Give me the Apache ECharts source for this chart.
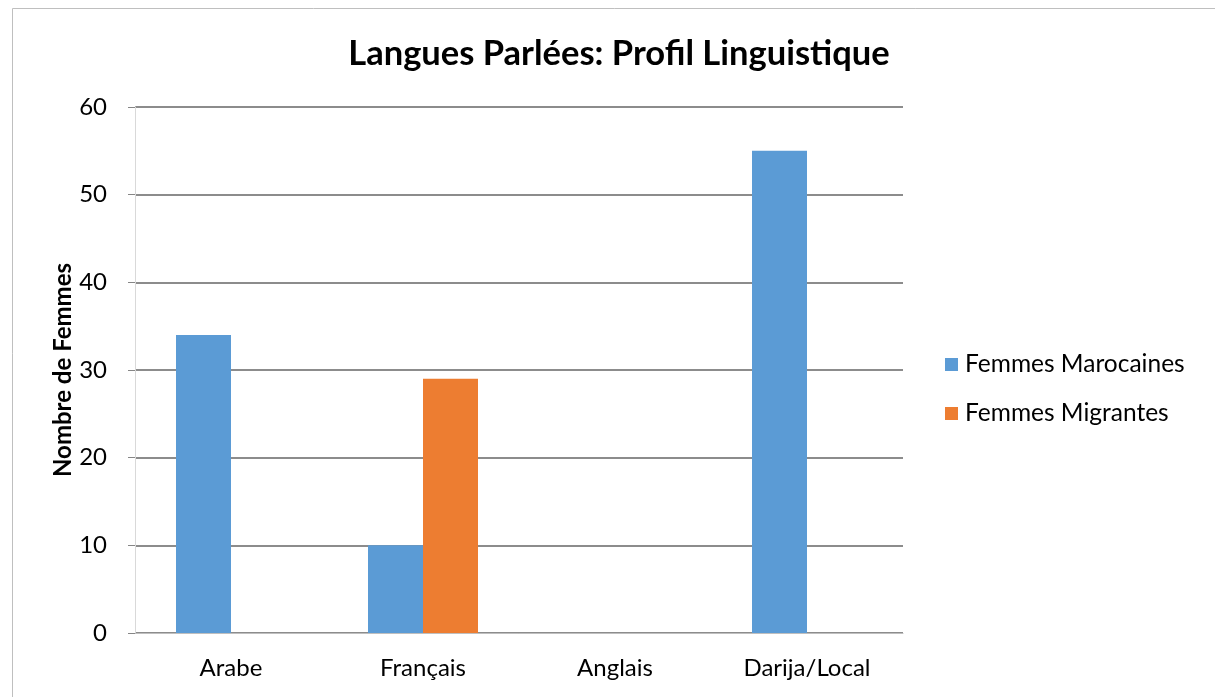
<!DOCTYPE html>
<html>
<head>
<meta charset="utf-8">
<script src="https://cdn.jsdelivr.net/npm/echarts@6/dist/echarts.min.js"></script>
<style>html,body{margin:0;padding:0;background:#fff}#c{width:1215px;height:697px}</style>
</head>
<body>
<div id="c"></div>
<script>
const categories = ["Arabe", "Français", "Anglais", "Darija/Local"];
const seriesNames = ["Femmes Marocaines", "Femmes Migrantes"];
const marocaines = [34, 10, 0, 55];
const migrantes = [0, 29, 0, 0];
const yTicks = [0, 10, 20, 30, 40, 50, 60];

const font = "Lato, 'Open Sans', sans-serif";
const chart = echarts.init(document.getElementById('c'), null, {renderer: 'canvas'});
chart.setOption({
  animation: false,
  graphic: [{
    type: 'rect', shape: {x: 12.5, y: 8.5, width: 1230, height: 720},
    style: {fill: 'none', stroke: '#bfbfbf', lineWidth: 1}, silent: true
  }],
  title: {
    text: 'Langues Parlées: Profil Linguistique',
    left: 614, top: 31, textAlign: 'center',
    textStyle: {fontFamily: font, fontSize: 34.5, fontWeight: 'bold', color: '#000'}
  },
  legend: {
    orient: 'vertical', left: 940, top: 347, itemWidth: 13, itemHeight: 13, itemGap: 24,
    icon: 'rect',
    textStyle: {fontFamily: font, fontSize: 24.5, color: '#000', padding: [0, 0, 0, 2]},
    data: seriesNames
  },
  grid: {left: 135, right: 312, top: 107, bottom: 64, containLabel: false},
  xAxis: {
    type: 'category', data: categories,
    axisLine: {lineStyle: {color: '#bfbfbf', width: 1}},
    axisTick: {show: false},
    axisLabel: {fontFamily: font, fontSize: 24, color: '#000', margin: 23}
  },
  yAxis: {
    type: 'value', min: yTicks[0], max: yTicks[yTicks.length - 1], interval: 10,
    name: 'Nombre de Femmes', nameLocation: 'middle', nameGap: 60, nameRotate: 90,
    nameMoveOverlap: false,
    nameTextStyle: {fontFamily: font, fontSize: 24, fontWeight: 'bold', color: '#000'},
    axisLine: {show: true, lineStyle: {color: '#d9d9d9', width: 1}},
    axisTick: {show: true, length: 7, lineStyle: {color: '#868686'}},
    axisLabel: {fontFamily: font, fontSize: 24, color: '#000', margin: 28},
    splitLine: {lineStyle: {color: '#8c8c8c', width: 2}}
  },
  series: [
    {name: seriesNames[0], type: 'bar', data: marocaines, barWidth: 55, barGap: '0%',
     itemStyle: {color: '#5b9bd5'}},
    {name: seriesNames[1], type: 'bar', data: migrantes, barWidth: 55, barGap: '0%',
     itemStyle: {color: '#ed7d31'}}
  ]
});
</script>
</body>
</html>
